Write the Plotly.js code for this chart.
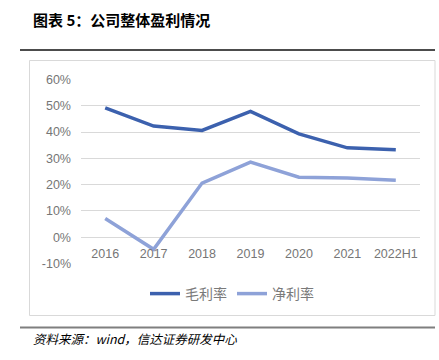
<!DOCTYPE html>
<html><head><meta charset="utf-8">
<script src="https://cdn.plot.ly/plotly-3.0.1.min.js"></script>
<style>html,body{margin:0;padding:0;background:#fff;}#chart{width:439px;height:360px;}</style>
</head><body><div id="chart"></div>
<script>
const categories = ['2016','2017','2018','2019','2020','2021','2022H1'];
const grossMargin = [49.2, 42.3, 40.6, 47.9, 39.3, 34.0, 33.3];
const netMargin = [7.1, -4.6, 20.6, 28.6, 22.8, 22.5, 21.7];
const yTicks = [-10, 0, 10, 20, 30, 40, 50, 60];
const yTickLabels = yTicks.map(v => v + '%');

const W = 439, H = 360;
const px = x => x / W, py = y => (H - y) / H;
const tickFont = {family: 'Liberation Sans, Arial, sans-serif', size: 12.5, color: '#767676'};

const traces = [
  {x: categories, y: grossMargin, name: '毛利率', type: 'scatter', mode: 'lines',
   line: {color: '#3C61AE', width: 3.5}},
  {x: categories, y: netMargin, name: '净利率', type: 'scatter', mode: 'lines',
   line: {color: '#8EA2D8', width: 3.5}}
];

const layout = {
  width: W, height: H,
  margin: {l: 0, r: 0, t: 0, b: 0},
  paper_bgcolor: '#fff', plot_bgcolor: 'rgba(0,0,0,0)',
  showlegend: true,
  legend: {orientation: 'h', x: px(232), xanchor: 'center', y: py(294), yanchor: 'middle',
           font: {family: 'Noto Sans CJK SC', size: 14, color: '#7A7A7A'},
           itemwidth: 30, tracegroupgap: 0, bgcolor: 'rgba(0,0,0,0)'},
  xaxis: {type: 'category', domain: [px(81), px(420)], range: [-0.5, 6.5],
          anchor: 'free', position: py(237.2), showgrid: false, zeroline: false,
          showline: false, ticks: '', ticklabelstandoff: 7, tickfont: tickFont, fixedrange: true},
  yaxis: {domain: [py(263.5), py(79.5)], range: [-10, 60], tickvals: yTicks, ticktext: yTickLabels,
          showgrid: true, gridcolor: '#D9D9D9', gridwidth: 1, zeroline: false,
          showline: false, ticks: '', ticklabelstandoff: 9, tickfont: tickFont, fixedrange: true},
  shapes: [
    {type: 'line', xref: 'paper', yref: 'paper', x0: px(20), x1: px(435), y0: py(50), y1: py(50),
     line: {color: '#111', width: 1.5}},
    {type: 'rect', xref: 'paper', yref: 'paper', x0: px(29.5), x1: px(435), y0: py(315.5), y1: py(60.5),
     line: {color: '#D9D9D9', width: 1}},
    {type: 'line', xref: 'paper', yref: 'paper', x0: px(20), x1: px(435), y0: py(327.5), y1: py(327.5),
     line: {color: '#7F7F7F', width: 2}}
  ],
  annotations: [
    {text: '<b>图表 5：公司整体盈利情况</b>', xref: 'paper', yref: 'paper', x: px(31), y: py(19),
     xanchor: 'left', yanchor: 'middle', showarrow: false,
     font: {family: 'Noto Sans CJK SC', size: 15, color: '#000'}},
    {text: '<i>资料来源：wind，信达证券研发中心</i>', xref: 'paper', yref: 'paper', x: px(31), y: py(338),
     xanchor: 'left', yanchor: 'middle', showarrow: false,
     font: {family: 'Noto Sans CJK SC', size: 12.5, color: '#000'}}
  ]
};

Plotly.newPlot('chart', traces, layout, {displayModeBar: false, staticPlot: true});
</script></body></html>
